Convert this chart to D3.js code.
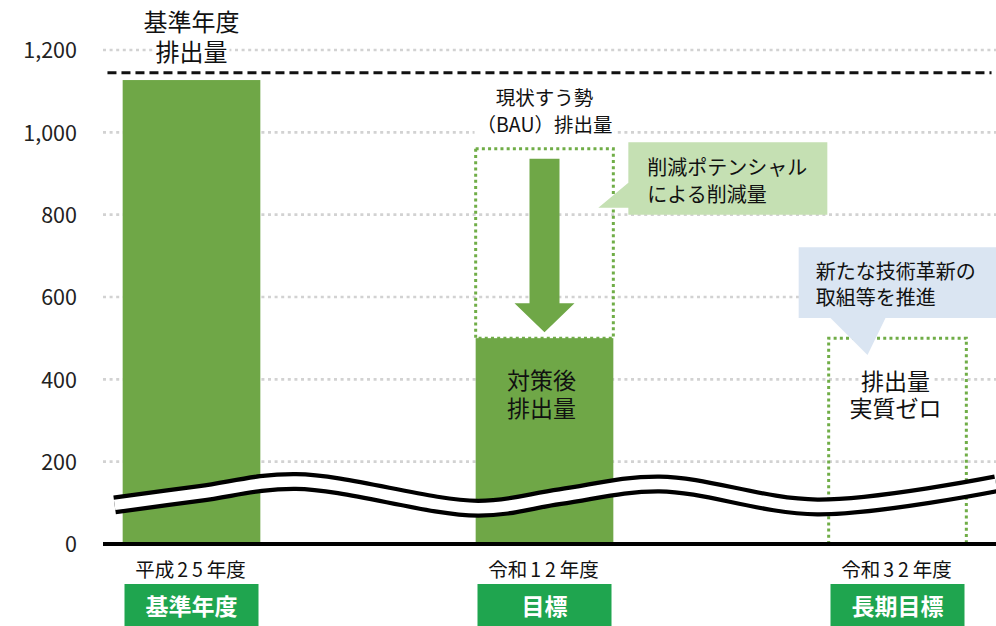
<!DOCTYPE html>
<html><head><meta charset="utf-8">
<script src="https://cdn.jsdelivr.net/npm/d3@7"></script>
<style>
html,body{margin:0;padding:0;background:#fff;}
svg{display:block;}
text{font-family:"Noto Sans CJK JP","Noto Sans",sans-serif;}
</style></head>
<body>
<svg id="chart" width="996" height="626"></svg>
<script>
// ---- data ----
const categories = ["平成25年度", "令和12年度", "令和32年度"];
const goalLabels = ["基準年度", "目標", "長期目標"];
const emissions = [1127, 500, 0];          // solid bars
const bauValue = 960;                       // 現状すう勢（BAU）排出量
const zeroBoxValue = 500;                   // dotted outline for 実質ゼロ
const baseRefValue = 1145;                  // dashed reference line
const yTicks = [0, 200, 400, 600, 800, 1000, 1200];
// wave-shaped axis break: fraction along plot width / value at centre
const waveX = [0.013, 0.109, 0.216, 0.42, 0.512, 0.623, 0.80, 1.0];
const waveY = [95, 123, 152, 87, 115, 146, 90, 146];

// ---- scales ----
const svg = d3.select("#chart");
const y = d3.scaleLinear().domain([0, 1200]).range([544, 50]);
const x = d3.scaleBand().domain(categories).range([15, 1074]).paddingInner(0.61).paddingOuter(0.305);
const xw = d3.scaleLinear().domain([0, 1]).range([103, 996]);
const bw = x.bandwidth();
const cx = c => x(c) + bw / 2;

const GREEN = "#6fa747";
const DOT_GREEN = "#70ad47";

// grid lines
svg.append("g").selectAll("line").data(yTicks.filter(d => d > 0)).join("line")
  .attr("x1", xw(0)).attr("x2", xw(1))
  .attr("y1", d => y(d)).attr("y2", d => y(d))
  .attr("stroke", "#d2d2d2").attr("stroke-width", 2.6).attr("stroke-dasharray", "3,3.6");

// y axis labels
const yAxis = d3.axisLeft(y).tickValues(yTicks).tickFormat(d3.format(",")).tickSize(0).tickPadding(26);
const ga = svg.append("g").attr("transform", `translate(${xw(0)},0)`).call(yAxis);
ga.select(".domain").remove();
ga.selectAll("text").attr("font-family", "'DejaVu Sans',sans-serif").attr("font-size", 21.5).attr("fill", "#222").attr("dy", "0.36em");

// dashed reference line
svg.append("line")
  .attr("x1", xw(0.005)).attr("x2", xw(0.995))
  .attr("y1", y(baseRefValue)).attr("y2", y(baseRefValue))
  .attr("stroke", "#111").attr("stroke-width", 3).attr("stroke-dasharray", "9,5");

// BAU dotted box
svg.append("rect")
  .attr("x", x(categories[1])).attr("width", bw)
  .attr("y", y(bauValue)).attr("height", y(emissions[1]) - y(bauValue))
  .attr("fill", "none").attr("stroke", DOT_GREEN).attr("stroke-width", 3).attr("stroke-dasharray", "3,3.2");

// bars
svg.append("g").selectAll("rect").data(emissions.map((v, i) => ({c: categories[i], v})).filter(d => d.v > 0)).join("rect")
  .attr("x", d => x(d.c)).attr("width", bw)
  .attr("y", d => y(d.v)).attr("height", d => y(0) - y(d.v))
  .attr("fill", GREEN);

// zero-emission dotted box
svg.append("path")
  .attr("d", () => {
    const x0 = x(categories[2]), x1 = x0 + bw, t = y(zeroBoxValue), b = y(0);
    return `M${x0},${b}V${t}H${x1}V${b}`;
  })
  .attr("fill", "none").attr("stroke", DOT_GREEN).attr("stroke-width", 3).attr("stroke-dasharray", "3,3.2");

// reduction arrow
(function () {
  const c = cx(categories[1]);
  const top = y(bauValue) + 10, tip = y(emissions[1]) - 6, headLen = 29, sw = 15, hw = 30;
  const pts = [[c - sw, top], [c + sw, top], [c + sw, tip - headLen], [c + hw, tip - headLen], [c, tip],
               [c - hw, tip - headLen], [c - sw, tip - headLen]];
  svg.append("polygon").attr("points", pts.map(p => p.join(",")).join(" ")).attr("fill", GREEN);
})();

// wave break
const waveLine = d3.line().x((d, i) => xw(waveX[i])).y(d => y(d)).curve(d3.curveCatmullRom.alpha(0.5));
svg.append("path").attr("d", waveLine(waveY)).attr("fill", "none").attr("stroke", "#000").attr("stroke-width", 19);
svg.append("path").attr("d", waveLine(waveY)).attr("fill", "none").attr("stroke", "#fff").attr("stroke-width", 10.5);

// baseline
svg.append("line").attr("x1", xw(0)).attr("x2", xw(1)).attr("y1", y(0)).attr("y2", y(0))
  .attr("stroke", "#000").attr("stroke-width", 4);

// text helper
function lines(xc, yc, arr, size, gap, opts = {}) {
  const g = svg.append("g");
  const ts = arr.map((s, i) => g.append("text").attr("text-anchor", opts.anchor || "middle")
    .attr("font-size", size).attr("fill", opts.fill || "#111")
    .attr("x", xc).attr("y", yc + i * gap).attr("dy", "0.36em").text(s));
  if (opts.bg) {
    ts.forEach(t => {
      const bb = t.node().getBBox();
      g.insert("rect", "text").attr("x", bb.x - 2).attr("y", bb.y + 3).attr("width", bb.width + 4).attr("height", bb.height - 6).attr("fill", "#fff");
    });
  }
  return ts;
}

lines(cx(categories[0]), 22, ["基準年度", "排出量"], 24, 30, {bg: true});
lines(cx(categories[1]), 98, ["現状すう勢", "（BAU）排出量"], 19.5, 27, {bg: true});
lines(cx(categories[1]) - 3, 381, ["対策後", "排出量"], 23, 28);
lines(cx(categories[2]) - 2, 382, ["排出量", "実質ゼロ"], 23, 27, {bg: true});

// callout 1 (reduction potential)
(function () {
  const x0 = x(categories[1]) + bw + 15, x1 = x0 + 199, t = y(1000) + 10, b = y(800);
  svg.append("path")
    .attr("d", `M${x0},${t}H${x1}V${b}H${x0}V${b - 7}L${x0 - 30},${b - 7}L${x0},${b - 32}Z`)
    .attr("fill", "#c5e0b3");
  lines(x0 + 19, t + 25, ["削減ポテンシャル", "による削減量"], 20, 27, {anchor: "start"});
})();

// callout 2 (innovation)
(function () {
  const x0 = x(categories[2]) - 30, x1 = xw(1), t = y(721), b = y(549);
  const tipX = cx(categories[2]) - 30, tipY = y(459);
  svg.append("path")
    .attr("d", `M${x0},${t}H${x1}V${b}H${tipX + 18}L${tipX},${tipY}L${tipX - 37},${b}H${x0}Z`)
    .attr("fill", "#dae5f2");
  lines(x0 + 17, t + 25, ["新たな技術革新の", "取組等を推進"], 20, 26, {anchor: "start"});
})();

// category labels (digits slightly spaced, as in the reference)
const cl = svg.append("g").selectAll("text").data(categories).join("text")
  .attr("x", d => cx(d) - 1).attr("y", 570).attr("dy", "0.36em")
  .attr("text-anchor", "middle").attr("font-size", 19.5).attr("fill", "#111");
cl.each(function (d) {
  const t = d3.select(this);
  const m = d.match(/^(\D*)(\d+)(\D*)$/);
  t.append("tspan").text(m[1]);
  t.append("tspan").attr("dx", 3).style("letter-spacing", "4px").text(m[2]);
  t.append("tspan").text(m[3]);
});

// goal label boxes
const gl = svg.append("g").selectAll("g").data(goalLabels).join("g");
gl.append("rect")
  .attr("x", (d, i) => cx(categories[i]) - 67).attr("width", 134)
  .attr("y", 584).attr("height", 44).attr("fill", "#1fa54f");
gl.append("text")
  .attr("x", (d, i) => cx(categories[i])).attr("y", 607).attr("dy", "0.36em")
  .attr("text-anchor", "middle").attr("font-size", 23).attr("font-weight", 700).attr("fill", "#fff")
  .text(d => d);
</script>
</body></html>
